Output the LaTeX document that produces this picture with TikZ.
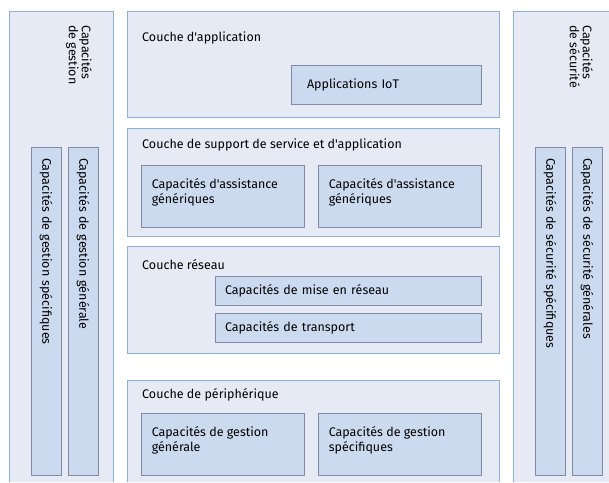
\documentclass[tikz,border=0pt]{standalone}
\usepackage{fontspec}
\setmainfont{Fira Sans}[Ligatures=TeXOff]
\definecolor{panelfill}{RGB}{230,234,245}
\definecolor{panelline}{RGB}{140,178,220}
\definecolor{capfill}{RGB}{204,218,240}
\definecolor{capline}{RGB}{128,138,165}
\newcommand{\capfont}{\fontsize{12.5}{15}\selectfont}
\tikzset{
  capbox/.style={draw=capline, fill=capfill, line width=0.9pt, inner xsep=11pt,
    align=left, font=\capfont},
  captext/.style={anchor=north west, inner sep=0pt, align=left, font=\capfont},
  title/.style={anchor=west, inner sep=0pt, font=\capfont},
  sidetitle/.style={rotate=-90, anchor=north west, inner sep=0pt, align=left,
    font=\fontsize{12.5}{13}\selectfont},
  panel/.style={fill=panelfill, draw=panelline, line width=0.9pt}
}
\begin{document}
\begin{tikzpicture}[x=1pt, y=-1pt]
  \useasboundingbox (0,0) rectangle (609,482);
  % Panneaux latéraux
  \fill[panelfill] (9.5,11) rectangle (113.5,482);
  \draw[panelline, line width=0.9pt] (9.5,482) -- (9.5,11) -- (113.5,11) -- (113.5,482);
  \fill[panelfill] (513,11) rectangle (609,482);
  \draw[panelline, line width=0.9pt] (513,482) -- (513,11) -- (609,11);
  % Couches
  \draw[panel] (127,11) rectangle (499,117);
  \draw[panel] (127,128) rectangle (499,236);
  \draw[panel] (127,246) rectangle (499,353);
  \fill[panelfill] (127,380) rectangle (499,482);
  \draw[panelline, line width=0.9pt] (127,482) -- (127,380) -- (499,380) -- (499,482);
  % Titres
  \node[sidetitle] (gestion) at (92,25) {Capacités\\de gestion};
  \node[sidetitle] (securite) at (593,25) {Capacités\\de sécurité};
  \node[title] (appli) at (142,38) {Couche d'application};
  \node[title] (support) at (142,145) {Couche de support de service et d'application};
  \node[title] (reseau) at (142,265) {Couche réseau};
  \node[title] (periph) at (142,395) {Couche de périphérique};
  % Capacités
  \node[capbox, inner xsep=16pt, minimum width=190pt, minimum height=39pt,
    text width=158pt] (iot) at (386,84.5) {Applications IoT};
  \node[capbox, inner xsep=10pt, minimum width=266pt, minimum height=29pt,
    text width=246pt] (miseres) at (348,290.5) {Capacités de mise en réseau};
  \node[capbox, inner xsep=10pt, minimum width=266pt, minimum height=29pt,
    text width=246pt] (transport) at (348,327.5) {Capacités de transport};
  \foreach \name/\xc/\yc/\txt in {assistA/222.5/196/Capacités d'assistance\\génériques,
      assistB/399.5/196/Capacités d'assistance\\génériques,
      gestgen/222.5/444.5/Capacités de gestion\\générale,
      gestspec/399.5/444.5/Capacités de gestion\\spécifiques} {
    \node[capbox, minimum width=163pt, minimum height=62pt] (\name) at (\xc,\yc) {};
    \node[captext] (\name-txt) at ([xshift=11pt, yshift=-13.5pt]\name.north west) {\txt};
  }
  % Barres verticales
  \foreach \name/\xc/\txt in {lspec/46/Capacités de gestion spécifiques,
      lgen/83/Capacités de gestion générale,
      rspec/550/Capacités de sécurité spécifiques,
      rgen/587/Capacités de sécurité générales} {
    \node[capbox, rotate=-90, minimum width=328pt, minimum height=30pt,
      text width=306pt] (\name) at (\xc,311) {\txt};
  }
\end{tikzpicture}
\end{document}
